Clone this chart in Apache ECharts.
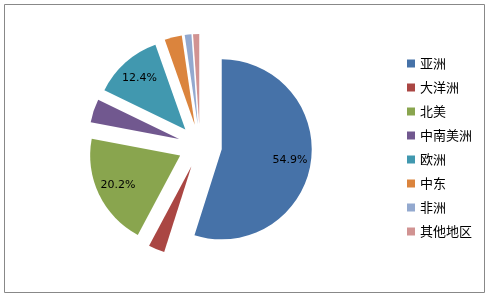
<!DOCTYPE html>
<html><head><meta charset="utf-8">
<script src="https://cdn.jsdelivr.net/npm/echarts@6/dist/echarts.min.js"></script>
<style>html,body{margin:0;padding:0;background:#fff}#c{width:485px;height:293px}</style>
</head><body><div id="c"></div>
<script>
const categories = ['亚洲','大洋洲','北美','中南美洲','欧洲','中东','非洲','其他地区'];
const shares = [54.9, 2.9, 20.2, 4.2, 12.4, 3.1, 1.2, 1.1];
const colors = ['#4672A8','#AA4643','#89A54E','#71588F','#4198AF','#DB843D','#93A9CF','#D19392'];

const chart = echarts.init(document.getElementById('c'));
const pieData = categories.map((n, i) => ({ name: n, value: shares[i], selected: true }));
const labelData = categories.map((n, i) => ({ name: n, value: shares[i], selected: true }));

chart.setOption({
  animation: false,
  color: colors,
  graphic: [{
    type: 'rect', left: 2, top: 2, silent: true,
    shape: { width: 480, height: 288 },
    style: { fill: 'none', stroke: '#888888', lineWidth: 1 }
  }],
  legend: {
    orient: 'vertical', left: 402, top: 52,
    itemWidth: 8, itemHeight: 8, itemGap: 11,
    icon: 'rect', selectedMode: false,
    textStyle: { fontFamily: 'Noto Sans CJK SC', fontSize: 13, color: '#000' },
    data: categories
  },
  series: [{
    type: 'pie', center: [200, 146], radius: 90,
    startAngle: 90, clockwise: true,
    selectedMode: 'multiple', selectedOffset: 22,
    avoidLabelOverlap: false, silent: true,
    label: { show: false }, labelLine: { show: false },
    data: pieData
  }, {
    type: 'pie', center: [200, 146], radius: [42, 90],
    startAngle: 90, clockwise: true,
    selectedMode: 'multiple', selectedOffset: 22,
    avoidLabelOverlap: false, silent: true,
    legendHoverLink: false,
    itemStyle: { color: 'rgba(0,0,0,0)' },
    label: {
      show: true, position: 'inside', color: '#000',
      fontFamily: 'DejaVu Sans', fontSize: 11,
      formatter: p => p.value >= 10 ? p.value.toFixed(1) + '%' : ''
    },
    labelLine: { show: false },
    data: labelData
  }]
});
</script></body></html>
